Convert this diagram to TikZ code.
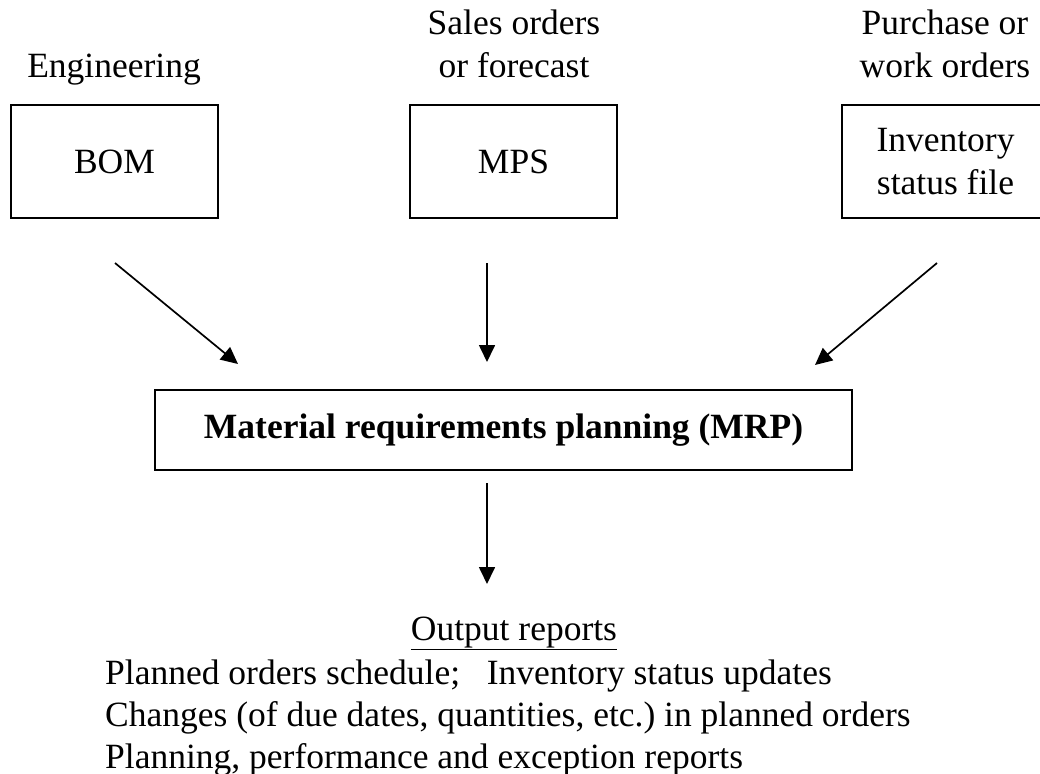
\documentclass[tikz,border=0pt]{standalone}
\usepackage{fontspec}
\setmainfont{Liberation Serif}
\usetikzlibrary{arrows.meta}
\frenchspacing
\begin{document}
\begin{tikzpicture}[x=1pt,y=-1pt,
  txt/.style={font=\fontsize{35.5}{42.5}\selectfont, inner sep=0pt, align=center},
  srcbox/.style={draw, line width=1.6pt, minimum width=207pt, minimum height=113pt, inner sep=0pt, align=center,
                 font=\fontsize{35.5}{42.5}\selectfont},
  flow/.style={line width=1.7pt, -{Triangle[length=17pt,width=16pt]}},
  outline/.style={font=\fontsize{35.5}{42.5}\selectfont, inner sep=0pt, anchor=base west}]
\useasboundingbox (0,0) rectangle (1040,773);

% source labels
\node[txt, anchor=base] (eng) at (114,78) {Engineering};
\node[txt] (sales) at (514,44) {Sales orders\\or forecast};
\node[txt] (purch) at (945,44) {Purchase or\\work orders};

% input boxes
\node[srcbox] (bom) at (114.5,161.5) {BOM};
\node[srcbox] (mps) at (513.5,161.5) {MPS};
\node[srcbox] (inv) at (945.5,161.5) {Inventory\\status file};

% central process
\node[draw, line width=1.6pt, minimum width=697pt, minimum height=80pt, inner sep=0pt,
      font=\fontsize{35.5}{42.5}\selectfont\bfseries] (mrp) at (503.5,430) {Material requirements planning (MRP)};

% arrow end points
\coordinate (bomout) at (115,263);
\coordinate (mrpinl) at (238,364);
\coordinate (mpsout) at (487,263);
\coordinate (mrpinc) at (487,362);
\coordinate (invout) at (937,263);
\coordinate (mrpinr) at (815,365);
\coordinate (mrpout) at (487,483);
\coordinate (repin) at (487,584);

\draw[flow] (bomout) -- (mrpinl);
\draw[flow] (mpsout) -- (mrpinc);
\draw[flow] (invout) -- (mrpinr);
\draw[flow] (mrpout) -- (repin);

% output reports
\node[txt, anchor=base] (outtitle) at (514,640) {\underline{Output reports}};
\node[outline] (out1) at (105,684) {Planned orders schedule;\ \ \ Inventory status updates};
\node[outline] (out2) at (105,726) {Changes (of due dates, quantities, etc.) in planned orders};
\node[outline] (out3) at (105,768) {Planning, performance and exception reports};
\end{tikzpicture}
\end{document}
